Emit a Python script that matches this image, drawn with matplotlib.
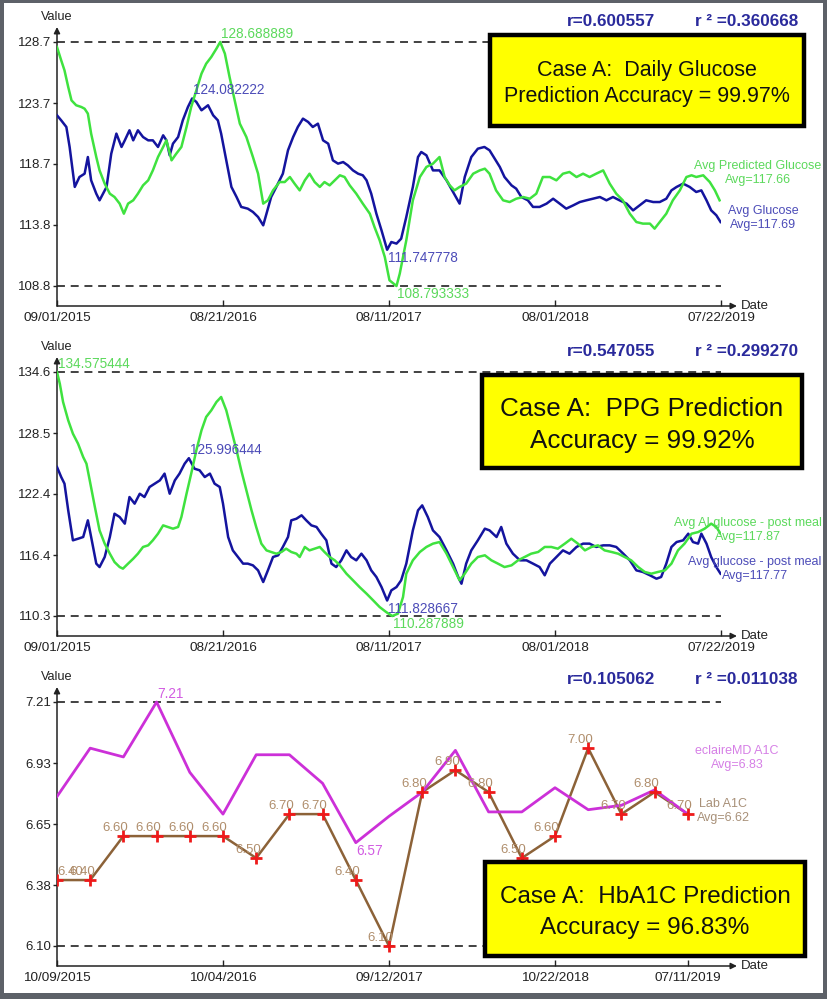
import matplotlib
matplotlib.use('Agg')
import matplotlib.pyplot as plt
from matplotlib.patches import Rectangle
import numpy as np
import pandas as pd

plt.rcParams['font.family'] = ['Liberation Sans', 'DejaVu Sans']

# ---- values ----
# panel 1: daily glucose, x = days after 09/01/2015
glucose_days = [0, 9, 20, 27, 38, 48, 59, 66, 73, 84, 91, 106, 116, 127, 138, 145, 155, 163, 173, 184,
                195, 205, 216, 227, 234, 241, 248, 259, 269, 280, 289, 298, 309, 323, 334, 344, 351, 362, 373, 384,
                394, 408, 419, 430, 441, 448, 458, 469, 483, 494, 505, 515, 526, 537, 547, 558, 569, 580, 590, 601,
                612, 622, 633, 644, 654, 662, 672, 683, 694, 706, 715, 726, 736, 747, 761, 772, 779, 790, 804, 818,
                833, 847, 861, 872, 886, 900, 914, 925, 936, 947, 957, 972, 982, 993, 1007, 1018, 1032, 1047, 1061, 1075,
                1089, 1104, 1118, 1132, 1146, 1161, 1175, 1189, 1203, 1218, 1232, 1246, 1260, 1275, 1289, 1303, 1314, 1325, 1339, 1353,
                1367, 1378, 1389, 1399, 1410, 1419]
glucose_avg = [122.71, 122.30, 121.76, 120.13, 116.87, 117.68, 117.95, 119.31, 117.41, 116.32,
               115.78, 116.87, 119.58, 121.22, 120.13, 120.67, 121.49, 120.67, 121.49, 120.94,
               120.67, 120.67, 120.13, 121.08, 120.67, 119.45, 120.40, 120.94, 122.30, 123.39,
               124.082222, 123.80, 123.12, 123.53, 122.71, 122.30, 121.22, 119.04, 116.87, 116.05,
               115.24, 115.10, 114.83, 114.42, 113.74, 114.69, 116.05, 116.87, 117.95, 119.86,
               120.94, 121.76, 122.44, 122.17, 121.76, 122.03, 120.67, 120.40, 119.04, 118.77,
               118.90, 118.63, 118.22, 117.95, 117.82, 117.41, 116.32, 114.69, 113.33, 111.747778,
               112.38, 112.25, 112.65, 114.42, 116.87, 119.31, 119.72, 119.45, 118.22, 118.22,
               117.41, 116.46, 115.51, 117.68, 119.31, 119.99, 120.13, 119.86, 119.18, 118.50,
               117.68, 117.00, 116.73, 116.05, 115.78, 115.24, 115.24, 115.51, 115.91, 115.51,
               115.10, 115.37, 115.64, 115.78, 115.91, 116.05, 115.78, 116.05, 115.78, 115.51,
               114.96, 115.37, 115.78, 115.64, 115.64, 115.91, 116.59, 116.87, 117.14, 116.87,
               116.46, 116.59, 115.78, 114.96, 114.56, 114.01]
predicted_days = [0, 9, 16, 24, 31, 41, 52, 59, 66, 73, 84, 91, 102, 113, 123, 134, 143, 152, 163, 173,
                  184, 195, 205, 216, 227, 234, 245, 255, 266, 277, 287, 298, 309, 319, 330, 341, 349, 359, 369, 380,
                  391, 405, 419, 430, 441, 451, 462, 476, 487, 498, 508, 519, 530, 540, 551, 562, 572, 583, 594, 605,
                  615, 626, 640, 654, 669, 679, 690, 701, 711, 726, 733, 747, 761, 776, 790, 804, 818, 829, 840, 850,
                  861, 875, 890, 904, 915, 925, 939, 954, 968, 982, 997, 1011, 1025, 1039, 1054, 1068, 1082, 1096, 1111, 1125,
                  1139, 1153, 1168, 1182, 1196, 1210, 1225, 1239, 1253, 1268, 1278, 1289, 1303, 1317, 1332, 1346, 1357, 1367, 1382, 1396,
                  1407, 1417]
predicted_avg = [128.28, 127.19, 126.38, 125.02, 123.93, 123.53, 123.39, 123.25, 122.85, 121.22,
                 119.31, 118.22, 117.14, 116.32, 116.05, 115.51, 114.69, 115.51, 115.78, 116.32,
                 117.00, 117.41, 118.22, 119.31, 120.13, 120.67, 119.04, 119.58, 120.13, 121.76,
                 123.39, 124.75, 126.11, 126.92, 127.47, 128.15, 128.688889, 127.74, 125.84, 123.93,
                 122.03, 120.94, 119.31, 117.95, 115.51, 115.78, 116.59, 117.27, 117.27, 117.68,
                 117.14, 116.59, 117.41, 117.95, 117.27, 116.87, 117.27, 117.00, 117.41, 117.82,
                 117.68, 117.00, 116.32, 115.51, 114.69, 113.60, 112.52, 111.16, 109.26, 108.793333,
                 109.80, 112.52, 115.78, 117.68, 118.50, 118.77, 119.31, 117.68, 117.00, 116.59,
                 116.87, 117.14, 117.95, 118.22, 118.36, 117.95, 116.59, 115.78, 115.64, 115.91,
                 116.05, 115.91, 116.32, 117.68, 117.68, 117.41, 117.95, 118.09, 117.68, 117.95,
                 117.68, 117.95, 118.22, 117.14, 116.32, 115.78, 114.69, 114.01, 113.88, 113.88,
                 113.47, 114.01, 114.69, 115.78, 116.59, 117.68, 117.82, 117.68, 117.82, 117.27,
                 116.59, 115.78]
daily_ticks = ['09/01/2015', '08/21/2016', '08/11/2017', '08/01/2018', '07/22/2019']

# panel 2: post meal glucose, same date axis
ppg_days = [0, 9, 16, 24, 34, 45, 56, 66, 73, 84, 91, 102, 113, 123, 134, 145, 155, 166, 177, 187,
            198, 209, 220, 230, 241, 252, 262, 273, 282, 294, 305, 316, 327, 337, 348, 355, 366, 376, 387, 398,
            408, 419, 430, 441, 451, 462, 473, 483, 494, 501, 512, 523, 533, 544, 555, 565, 576, 587, 597, 608,
            619, 629, 640, 651, 662, 672, 683, 694, 706, 715, 726, 736, 747, 761, 772, 781, 793, 804, 818, 833,
            847, 858, 865, 875, 886, 900, 915, 925, 940, 950, 961, 975, 990, 1004, 1018, 1032, 1043, 1054, 1068, 1082,
            1096, 1111, 1125, 1139, 1153, 1168, 1182, 1196, 1211, 1225, 1239, 1253, 1268, 1282, 1292, 1303, 1314, 1325, 1339, 1350,
            1360, 1371, 1378, 1389, 1399, 1410, 1419]
ppg_avg = [125.12, 124.12, 123.46, 120.80, 117.82, 117.98, 118.15, 119.81, 118.15, 115.50,
           115.16, 116.16, 118.15, 120.47, 120.14, 119.48, 122.13, 121.47, 122.46, 122.13,
           123.13, 123.46, 123.79, 124.46, 122.46, 123.79, 124.46, 125.45, 125.996444, 124.95,
           124.79, 124.12, 124.46, 123.46, 123.13, 121.47, 118.15, 116.82, 116.16, 115.50,
           115.50, 115.33, 114.83, 113.67, 114.83, 116.16, 116.33, 117.16, 118.15, 119.81,
           119.97, 120.31, 119.81, 119.31, 119.15, 118.48, 117.82, 115.50, 115.16, 115.83,
           116.82, 116.16, 115.83, 116.49, 115.83, 114.83, 114.17, 113.17, 111.828667, 112.84,
           113.17, 113.84, 115.50, 118.81, 120.80, 121.30, 120.14, 118.81, 118.15, 116.82,
           115.50, 114.17, 113.50, 115.50, 116.82, 117.82, 118.98, 118.81, 118.15, 119.15,
           117.49, 116.49, 115.83, 115.83, 115.50, 115.16, 114.34, 115.50, 116.16, 116.82,
           116.49, 117.16, 117.49, 117.49, 117.16, 117.32, 117.32, 117.16, 116.49, 115.83,
           114.83, 114.67, 114.34, 114.00, 114.17, 115.50, 117.16, 117.65, 117.82, 118.48,
           117.65, 117.49, 118.48, 117.49, 116.16, 115.16, 114.50]
ppg_ai_days = [0, 6, 13, 24, 34, 45, 56, 63, 70, 81, 91, 102, 113, 123, 134, 141, 152, 163, 173, 184,
               195, 205, 216, 227, 237, 248, 259, 266, 277, 287, 298, 309, 319, 330, 341, 351, 362, 373, 384, 394,
               405, 416, 426, 437, 448, 458, 469, 480, 490, 501, 512, 519, 530, 540, 551, 562, 572, 583, 594, 605,
               619, 633, 647, 662, 676, 690, 704, 717, 729, 740, 747, 761, 776, 790, 804, 818, 833, 847, 861, 872,
               886, 900, 915, 929, 943, 957, 972, 986, 1000, 1014, 1029, 1043, 1057, 1071, 1086, 1100, 1114, 1129, 1143, 1157,
               1171, 1186, 1200, 1214, 1228, 1243, 1257, 1271, 1285, 1300, 1314, 1328, 1342, 1357, 1371, 1385, 1399, 1410, 1419]
ppg_ai_avg = [134.575444, 133.41, 131.59, 129.76, 128.44, 127.44, 126.11, 125.45, 123.79, 121.14,
              118.81, 117.49, 116.49, 115.66, 115.16, 115.00, 115.50, 115.99, 116.49, 117.16,
              117.32, 117.82, 118.48, 119.31, 119.15, 118.98, 119.15, 120.14, 122.46, 124.46,
              126.78, 128.77, 130.10, 130.76, 131.59, 132.09, 130.76, 128.77, 126.78, 124.79,
              122.80, 120.80, 119.15, 117.49, 116.82, 116.66, 116.49, 116.66, 116.99, 116.66,
              116.49, 116.16, 117.16, 116.82, 116.99, 117.16, 116.66, 116.16, 115.83, 115.33,
              114.50, 113.84, 113.17, 112.51, 111.85, 111.18, 110.68, 110.287889, 110.52, 112.18,
              114.50, 115.83, 116.66, 117.16, 117.49, 117.65, 116.49, 115.16, 113.84, 114.50,
              115.50, 116.16, 116.33, 115.83, 115.50, 115.16, 115.33, 115.83, 116.16, 116.49,
              116.66, 117.16, 117.16, 116.99, 117.49, 117.98, 117.49, 116.82, 117.16, 117.32,
              116.82, 116.66, 116.49, 116.16, 115.83, 115.16, 114.67, 114.50, 114.67, 114.83,
              115.50, 116.82, 117.49, 118.48, 118.64, 118.98, 119.48, 119.15, 118.48]

# panel 3: one value per A1C check
lab_a1c = [6.40, 6.40, 6.60, 6.60, 6.60, 6.60, 6.50, 6.70, 6.70, 6.40,
           6.10, 6.80, 6.90, 6.80, 6.50, 6.60, 7.00, 6.70, 6.80, 6.70]
eclaire_a1c = [6.78, 7.00, 6.96, 7.21, 6.89, 6.70, 6.97, 6.97, 6.84, 6.57,
               6.69, 6.80, 6.99, 6.71, 6.71, 6.82, 6.72, 6.74, 6.81, 6.70]
a1c_tick_idx = [0, 5, 10, 15, 19]
a1c_ticks = ['10/09/2015', '10/04/2016', '09/12/2017', '10/22/2018', '07/11/2019']

W, H = 827, 999
BLUE = '#14149e'
BLUE_TXT = '#4c4cb8'
GREEN = '#3fe23f'
GREEN_TXT = '#5cd95c'
MAGENTA = '#cc30d8'
MAGENTA_TXT = '#d25ce2'
BROWN = '#8c6238'
TAN = '#b08e6c'
R_BLUE = '#2a2a9c'


def fx(px):
    return px / W


def fy(py):
    return 1 - py / H


fig = plt.figure(figsize=(W / 100, H / 100), dpi=100)
fig.patch.set_facecolor('#5d6168')
fig.add_artist(Rectangle((fx(4), fy(993)), 819 / W, 990 / H, transform=fig.transFigure,
                         facecolor='white', edgecolor='none', zorder=-5))


def panel(dy, lo, hi, fmt):
    ax = fig.add_axes([fx(57), fy(306 + dy), 664 / W, 279 / H])
    ax.patch.set_visible(False)
    ppu = 244 / (hi - lo)
    ax.set_ylim(lo - 20 / ppu, hi + 15 / ppu)
    for s in ax.spines.values():
        s.set_visible(False)
    arrow = dict(arrowstyle='-|>', color='#222222', lw=1.1, mutation_scale=9, shrinkA=0, shrinkB=0)
    ax.annotate('', xy=(1.024, 0), xytext=(0, 0), xycoords='axes fraction',
                arrowprops=arrow, annotation_clip=False)
    ax.annotate('', xy=(0, 1), xytext=(0, 0), xycoords='axes fraction',
                arrowprops=arrow, annotation_clip=False)
    ticks = np.linspace(lo, hi, 5)
    ax.set_yticks(ticks)
    ax.set_yticklabels([fmt % t for t in ticks])
    ax.tick_params(axis='y', direction='out', length=3, width=1, pad=1, labelsize=9.5, colors='#222222')
    ax.tick_params(axis='x', direction='in', length=4, width=1, pad=4, labelsize=9.7, colors='#222222')
    for v in (lo, hi):
        ax.axhline(v, color='#333333', lw=1.3, ls=(0, (4.4, 3.2)), zorder=1)
    fig.text(fx(57), fy(17 + dy), 'Value', ha='center', va='center', fontsize=9.2, color='#222222')
    fig.text(fx(741), fy(306 + dy), 'Date', ha='left', va='center', fontsize=9.5, color='#222222')
    return ax


def extreme(ax, x, y, color, above, fmt='%.6f'):
    ax.annotate(fmt % y, xy=(x, y), xytext=(0.5, 6 if above else -6), textcoords='offset points',
                ha='left', va='center', fontsize=9.8, color=color, zorder=5)


def r_text(dy, r, r2):
    fig.text(fx(567), fy(21 + dy), 'r=' + r, ha='left', va='center', fontsize=12.3,
             fontweight='bold', color=R_BLUE)
    fig.text(fx(695), fy(21 + dy), 'r ² =' + r2, ha='left', va='center', fontsize=12.3,
             fontweight='bold', color=R_BLUE)


def case_box(x0, y0, x1, y1, lines, baselines, size):
    fig.add_artist(Rectangle((fx(x0), fy(y1)), (x1 - x0) / W, (y1 - y0) / H, transform=fig.transFigure,
                             facecolor='#ffff00', edgecolor='black', lw=3.2, zorder=5))
    for txt, b in zip(lines, baselines):
        fig.text(fx((x0 + x1) / 2), fy(b), txt, ha='center', va='baseline', fontsize=size,
                 color='#111111', zorder=6)


def legend_text(x, y, lines, color):
    for i, txt in enumerate(lines):
        fig.text(fx(x), fy(y + 14 * i), txt, ha='center', va='center', fontsize=9, color=color, zorder=4)


def daily_panel(dy, days_a, vals_a, days_p, vals_p):
    lo = min(min(vals_a), min(vals_p))
    hi = max(max(vals_a), max(vals_p))
    ax = panel(dy, lo, hi, '%.1f')
    d0 = pd.to_datetime(daily_ticks[0])
    tick_days = [(pd.to_datetime(t) - d0).days for t in daily_ticks]
    ax.set_xlim(0, tick_days[-1])
    ax.set_xticks(tick_days)
    ax.set_xticklabels(daily_ticks)
    ax.plot(days_a, vals_a, color=BLUE, lw=1.8, zorder=3)
    ax.plot(days_p, vals_p, color=GREEN, lw=1.8, zorder=3.5)
    for d, v, c in ((days_a, vals_a, BLUE_TXT), (days_p, vals_p, GREEN_TXT)):
        i_max, i_min = int(np.argmax(v)), int(np.argmin(v))
        extreme(ax, d[i_max], v[i_max], c, True)
        extreme(ax, d[i_min], v[i_min], c, False)
    return ax


# panel 1
daily_panel(0, glucose_days, glucose_avg, predicted_days, predicted_avg)
r_text(0, '0.600557', '0.360668')
legend_text(758, 166, ['Avg Predicted Glucose', 'Avg=117.66'], GREEN_TXT)
legend_text(763, 211, ['Avg Glucose', 'Avg=117.69'], BLUE_TXT)
case_box(490, 35, 804, 126, ['Case A:  Daily Glucose', 'Prediction Accuracy = 99.97%'], [76, 102], 15.5)

# panel 2
daily_panel(330, ppg_days, ppg_avg, ppg_ai_days, ppg_ai_avg)
r_text(330, '0.547055', '0.299270')
legend_text(748, 523, ['Avg AI glucose - post meal', 'Avg=117.87'], GREEN_TXT)
legend_text(755, 562, ['Avg glucose - post meal', 'Avg=117.77'], BLUE_TXT)
case_box(482, 375, 802, 468, ['Case A:  PPG Prediction', 'Accuracy = 99.92%'], [416, 448], 18.7)

# panel 3
lo3 = min(min(lab_a1c), min(eclaire_a1c))
hi3 = max(max(lab_a1c), max(eclaire_a1c))
ax3 = panel(660, lo3, hi3, '%.2f')
idx = np.arange(len(lab_a1c))
ax3.set_xlim(0, len(lab_a1c))
ax3.set_xticks(a1c_tick_idx)
ax3.set_xticklabels(a1c_ticks)
ax3.plot(idx, lab_a1c, color=BROWN, lw=1.8, zorder=2)
ax3.plot(idx, eclaire_a1c, color=MAGENTA, lw=2, zorder=3)
ax3.plot(idx, lab_a1c, ls='none', marker='+', ms=8, mew=2, color='#ee1a1a', zorder=4)
for i, v in enumerate(lab_a1c):
    if i == 0:
        ax3.annotate('%.2f' % v, xy=(i, v), xytext=(0, 6), textcoords='offset points',
                     ha='left', va='center', fontsize=9.5, color=TAN, zorder=5)
    else:
        ax3.annotate('%.2f' % v, xy=(i, v), xytext=(-6, 6), textcoords='offset points',
                     ha='center', va='center', fontsize=9.5, color=TAN, zorder=5)
i_max, i_min = int(np.argmax(eclaire_a1c)), int(np.argmin(eclaire_a1c))
extreme(ax3, i_max, eclaire_a1c[i_max], MAGENTA_TXT, True, '%.2f')
extreme(ax3, i_min, eclaire_a1c[i_min], MAGENTA_TXT, False, '%.2f')
r_text(659, '0.105062', '0.011038')
legend_text(737, 751, ['eclaireMD A1C', 'Avg=6.83'], '#d680e6')
legend_text(723, 804, ['Lab A1C', 'Avg=6.62'], '#a89078')
case_box(485, 862, 805, 956, ['Case A:  HbA1C Prediction', 'Accuracy = 96.83%'], [903, 934], 17.5)

fig.savefig('out.png', dpi=100, facecolor=fig.get_facecolor())
